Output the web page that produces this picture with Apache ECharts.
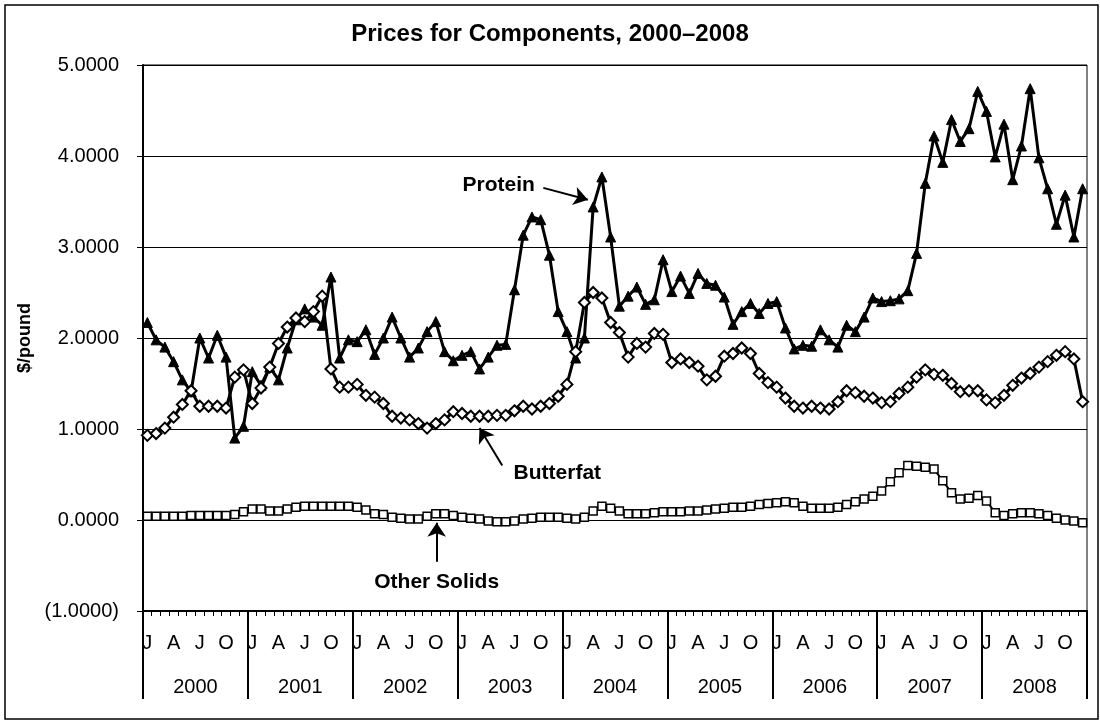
<!DOCTYPE html>
<html>
<head>
<meta charset="utf-8">
<script src="https://cdn.jsdelivr.net/npm/echarts@6/dist/echarts.min.js"></script>
<style>
  html, body { margin: 0; padding: 0; background: #fff; }
  #chart { width: 1100px; height: 721px; }
</style>
</head>
<body>
<div id="chart"></div>
<script>
// categories
const years = ['2000', '2001', '2002', '2003', '2004', '2005', '2006', '2007', '2008'];
const monthNames = ['Jan', 'Feb', 'Mar', 'Apr', 'May', 'Jun', 'Jul', 'Aug', 'Sep', 'Oct', 'Nov', 'Dec'];
const yTicks = [-1, 0, 1, 2, 3, 4, 5];

// $/pound, monthly, Jan 2000 .. Dec 2008
const protein = [
  2.17, 1.98, 1.90, 1.74, 1.54, 1.41, 2.00, 1.78, 2.03, 1.79, 0.90, 1.03,
  1.63, 1.48, 1.68, 1.54, 1.89, 2.20, 2.32, 2.23, 2.14, 2.67, 1.78, 1.98,
  1.96, 2.09, 1.82, 2.00, 2.23, 2.00, 1.79, 1.89, 2.07, 2.18, 1.85, 1.75,
  1.81, 1.85, 1.66, 1.79, 1.92, 1.93, 2.53, 3.13, 3.33, 3.30, 2.91, 2.29,
  2.07, 1.78, 2.00, 3.44, 3.77, 3.11, 2.35, 2.46, 2.56, 2.37, 2.42, 2.86,
  2.51, 2.68, 2.49, 2.71, 2.60, 2.58, 2.45, 2.15, 2.29, 2.38, 2.27, 2.38,
  2.40, 2.11, 1.88, 1.92, 1.91, 2.09, 1.98, 1.90, 2.14, 2.07, 2.23, 2.44,
  2.40, 2.41, 2.43, 2.52, 2.93, 3.70, 4.22, 3.93, 4.40, 4.16, 4.30, 4.71,
  4.49, 3.99, 4.35, 3.74, 4.11, 4.74, 3.98, 3.64, 3.25, 3.57, 3.11, 3.64
];
const butterfat = [
  0.93, 0.95, 1.01, 1.13, 1.27, 1.42, 1.25, 1.25, 1.25, 1.23, 1.57, 1.65,
  1.28, 1.45, 1.68, 1.94, 2.12, 2.22, 2.18, 2.29, 2.46, 1.66, 1.46, 1.46,
  1.49, 1.37, 1.35, 1.28, 1.14, 1.12, 1.10, 1.06, 1.01, 1.06, 1.10, 1.19,
  1.17, 1.14, 1.14, 1.14, 1.15, 1.15, 1.20, 1.25, 1.22, 1.25, 1.28, 1.36,
  1.49, 1.85, 2.39, 2.50, 2.44, 2.17, 2.06, 1.79, 1.94, 1.90, 2.05, 2.04,
  1.73, 1.77, 1.73, 1.69, 1.54, 1.58, 1.80, 1.83, 1.89, 1.83, 1.61, 1.51,
  1.46, 1.34, 1.25, 1.23, 1.25, 1.23, 1.22, 1.30, 1.42, 1.40, 1.36, 1.34,
  1.29, 1.30, 1.39, 1.46, 1.57, 1.65, 1.60, 1.59, 1.50, 1.41, 1.42, 1.42,
  1.32, 1.29, 1.37, 1.48, 1.56, 1.61, 1.68, 1.74, 1.81, 1.85, 1.77, 1.30
];
const otherSolids = [
  0.04, 0.04, 0.04, 0.04, 0.04, 0.05, 0.05, 0.05, 0.05, 0.05, 0.06, 0.09,
  0.12, 0.12, 0.10, 0.10, 0.12, 0.14, 0.15, 0.15, 0.15, 0.15, 0.15, 0.15,
  0.14, 0.11, 0.07, 0.06, 0.03, 0.02, 0.01, 0.01, 0.04, 0.07, 0.07, 0.05,
  0.03, 0.02, 0.01, -0.01, -0.02, -0.02, -0.01, 0.01, 0.02, 0.03, 0.03, 0.03,
  0.02, 0.01, 0.03, 0.10, 0.15, 0.13, 0.10, 0.07, 0.07, 0.07, 0.08, 0.09,
  0.09, 0.09, 0.10, 0.10, 0.11, 0.12, 0.13, 0.14, 0.14, 0.15, 0.17, 0.18,
  0.19, 0.20, 0.19, 0.15, 0.13, 0.13, 0.13, 0.14, 0.17, 0.20, 0.23, 0.26,
  0.32, 0.42, 0.52, 0.60, 0.59, 0.58, 0.56, 0.43, 0.30, 0.23, 0.24, 0.27,
  0.21, 0.08, 0.05, 0.07, 0.08, 0.08, 0.07, 0.05, 0.02, 0.00, -0.01, -0.03
];

// call-out labels (text position and arrow, in month index / $ units)
const noteNames = ['Protein', 'Butterfat', 'Other Solids'];
const noteText = [[40.2, 3.68], [46.9, 0.51], [33.1, -0.68]];
const noteFrom = [[45.3, 3.65], [40.6, 0.60], [33.1, -0.46]];
const noteTo = [[50.4, 3.52], [38.0, 1.01], [33.1, -0.03]];

const months = [];
years.forEach(y => monthNames.forEach(m => months.push(m + ' ' + y)));

const font = 'Liberation Sans, Arial, sans-serif';

const myChart = echarts.init(document.getElementById('chart'));
const option = {
  animation: false,
  backgroundColor: '#fff',
  textStyle: { fontFamily: font, color: '#000' },
  title: {
    text: 'Prices for Components, 2000\u20132008',
    left: 'center',
    top: 17,
    textStyle: { fontFamily: font, fontSize: 24, fontWeight: 'bold', color: '#000' }
  },
  graphic: [{
    type: 'rect',
    shape: { x: 5, y: 5, width: 1093, height: 714 },
    style: { fill: 'none', stroke: '#000', lineWidth: 1.5 },
    silent: true
  }],
  grid: {
    left: 143, right: 13, top: 65, bottom: 110,
    show: true, borderColor: '#000', borderWidth: 1, backgroundColor: 'transparent'
  },
  xAxis: [
    {
      type: 'category',
      data: months,
      position: 'bottom',
      boundaryGap: true,
      axisLine: { show: true, onZero: false, lineStyle: { color: '#000', width: 2 } },
      axisTick: { show: true, interval: 0, length: 5, lineStyle: { color: '#000', width: 1 } },
      axisLabel: {
        interval: function (index) { return index % 3 === 0; },
        formatter: function (v) { return v.charAt(0); },
        margin: 22,
        fontSize: 20,
        fontFamily: font,
        color: '#000'
      },
      splitLine: { show: false }
    },
    {
      type: 'category',
      data: years,
      position: 'bottom',
      boundaryGap: true,
      axisLine: { show: false, onZero: false },
      axisTick: { show: true, interval: 0, length: 88, lineStyle: { color: '#000', width: 2 } },
      axisLabel: { interval: 0, margin: 66, fontSize: 20, fontFamily: font, color: '#000' },
      splitLine: { show: false }
    },
    {
      type: 'value',
      position: 'top',
      min: -0.5,
      max: 107.5,
      show: false,
      axisLine: { onZero: false }
    }
  ],
  yAxis: {
    type: 'value',
    min: yTicks[0],
    max: yTicks[yTicks.length - 1],
    interval: 1,
    name: '$/pound',
    nameLocation: 'middle',
    nameRotate: 90,
    nameGap: 108,
    nameTextStyle: { fontFamily: font, fontSize: 18, fontWeight: 'bold', color: '#000' },
    axisLine: { show: true, onZero: false, lineStyle: { color: '#000', width: 2 } },
    axisTick: { show: true, length: 6, lineStyle: { color: '#000', width: 1 } },
    axisLabel: {
      margin: 24,
      fontSize: 20,
      fontFamily: font,
      color: '#000',
      formatter: function (v) {
        return v < 0 ? '(' + Math.abs(v).toFixed(4) + ')' : v.toFixed(4);
      }
    },
    splitLine: { show: true, lineStyle: { color: '#000', width: 1 } }
  },
  series: [
    {
      name: 'Protein',
      type: 'line',
      data: protein,
      symbol: 'triangle',
      symbolSize: 10,
      showAllSymbol: true,
      lineStyle: { color: '#000', width: 3 },
      itemStyle: { color: '#000', borderColor: '#000', borderWidth: 1 },
      z: 3
    },
    {
      name: 'Butterfat',
      type: 'line',
      data: butterfat,
      symbol: 'diamond',
      symbolSize: 11,
      showAllSymbol: true,
      lineStyle: { color: '#000', width: 3 },
      itemStyle: { color: '#fff', borderColor: '#000', borderWidth: 2 },
      z: 4
    },
    {
      name: 'Other Solids',
      type: 'line',
      data: otherSolids,
      symbol: 'rect',
      symbolSize: 8,
      showAllSymbol: true,
      lineStyle: { color: '#000', width: 2 },
      itemStyle: { color: '#fff', borderColor: '#000', borderWidth: 1.5 },
      z: 5
    },
    {
      name: 'notes',
      type: 'line',
      xAxisIndex: 2,
      data: [],
      silent: true,
      itemStyle: { color: '#000' },
      lineStyle: { color: '#000' },
      markLine: {
        silent: true,
        symbol: ['none', 'arrow'],
        symbolSize: 14,
        label: { show: false },
        itemStyle: { color: '#000' },
        lineStyle: { color: '#000', width: 2, type: 'solid' },
        emphasis: { disabled: true },
        data: noteNames.map((n, i) => [{ coord: noteFrom[i] }, { coord: noteTo[i] }])
      },
      markPoint: {
        silent: true,
        symbol: 'circle',
        symbolSize: 1,
        itemStyle: { color: 'transparent' },
        label: {
          show: true,
          position: 'inside',
          formatter: '{b}',
          fontFamily: font,
          fontSize: 21,
          fontWeight: 'bold',
          color: '#000'
        },
        data: noteNames.map((n, i) => ({ name: n, coord: noteText[i] }))
      }
    }
  ]
};
myChart.setOption(option);
window.addEventListener('resize', function () {
  myChart.resize();
});
</script>
</body>
</html>
